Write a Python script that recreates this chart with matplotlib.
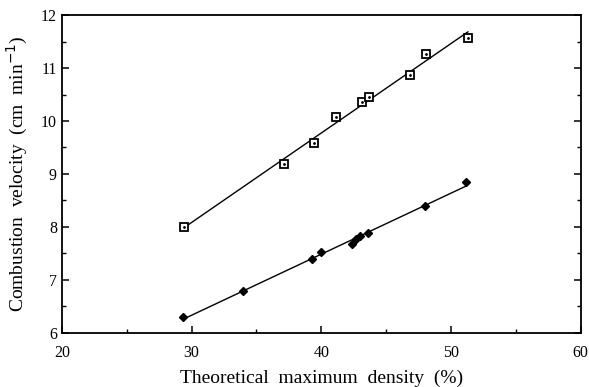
import numpy as np
import matplotlib
matplotlib.use("Agg")
import matplotlib.pyplot as plt
from matplotlib.ticker import MultipleLocator

# open squares (upper series)
dens_sq = [29.4, 37.1, 39.4, 41.1, 43.1, 43.7, 46.8, 48.1, 51.3]
vel_sq = [8.0, 9.18, 9.58, 10.07, 10.35, 10.46, 10.87, 11.26, 11.57]

# filled diamonds (lower series)
dens_di = [29.35, 34.0, 39.3, 40.0, 42.4, 42.7, 42.96, 43.6, 48.0, 51.15]
vel_di = [6.30, 6.79, 7.39, 7.52, 7.67, 7.78, 7.83, 7.88, 8.39, 8.85]

plt.rcParams['font.family'] = ['Liberation Serif', 'DejaVu Serif']

fig = plt.figure(figsize=(5.89, 3.87), dpi=100)
ax = fig.add_axes([0.105, 0.140, 0.881, 0.821])

def fitline(x, y):
    k, b = np.polyfit(x, y, 1)
    xs = np.array([min(x), max(x)])
    return xs, k * xs + b

xs, ys = fitline(dens_sq, vel_sq)
ax.plot(xs, ys, color='black', lw=1.0)
xs, ys = fitline(dens_di, vel_di)
ax.plot(xs, ys, color='black', lw=1.0)

ax.plot(dens_sq, vel_sq, ls='none', marker='s', ms=5.5, mfc='white',
        mec='black', mew=1.3, zorder=3)
ax.plot(dens_sq, vel_sq, ls='none', marker='.', ms=2, color='black', zorder=4)
ax.plot(dens_di, vel_di, ls='none', marker='D', ms=4.5, color='black', zorder=3)

ax.set_xlim(20, 60)
ax.set_ylim(6, 12)
ax.xaxis.set_major_locator(MultipleLocator(10))
ax.xaxis.set_minor_locator(MultipleLocator(5))
ax.yaxis.set_major_locator(MultipleLocator(1))
ax.yaxis.set_minor_locator(MultipleLocator(0.5))
ax.tick_params(which='both', direction='in', right=True, labelsize=11.5)
ax.tick_params(which='major', length=5, width=1.1)
ax.tick_params(axis='x', which='major', pad=9)
ax.tick_params(which='minor', length=3, width=1)
for s in ax.spines.values():
    s.set_linewidth(1.3)

ax.set_xlabel('Theoretical  maximum  density  (%)', fontsize=14, labelpad=6)
ax.set_ylabel('Combustion  velocity  (cm  min$^{-1}$)', fontsize=14, labelpad=8)

fig.savefig('out.png', dpi=100)
